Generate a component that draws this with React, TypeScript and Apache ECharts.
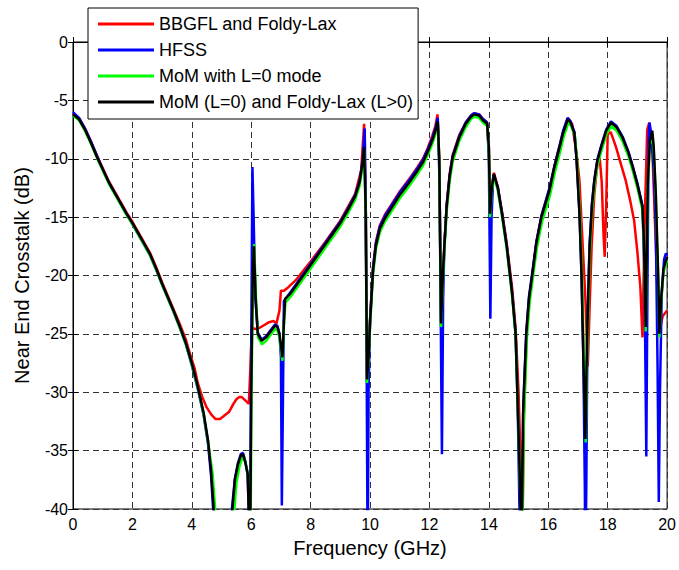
import React, { useEffect, useRef } from "react";
import * as echarts from "echarts";

const legendNames = [
  "BBGFL and Foldy-Lax",
  "HFSS",
  "MoM with L=0 mode",
  "MoM (L=0) and Foldy-Lax (L>0)",
];

const xTicks = [0, 2, 4, 6, 8, 10, 12, 14, 16, 18, 20];
const yTicks = [0, -5, -10, -15, -20, -25, -30, -35, -40];

// BBGFL and Foldy-Lax (red)
const redData: [number, number][] = [
  [0, -6.1], [0.2, -6.5], [0.4, -7.4], [0.6, -8.5], [0.8, -9.7], [1.0, -10.8],
  [1.2, -11.9], [1.4, -12.8], [1.6, -13.7], [1.8, -14.6], [2.0, -15.4], [2.2, -16.3],
  [2.4, -17.2], [2.6, -18.1], [2.8, -19.3], [3.0, -20.6], [3.2, -21.8], [3.4, -23.0],
  [3.6, -24.2], [3.8, -25.5], [3.9, -26.4], [4.0, -27.2], [4.1, -28.0], [4.2, -29.2],
  [4.35, -30.4], [4.5, -31.3], [4.65, -31.9], [4.8, -32.3], [4.95, -32.3], [5.1, -32.0],
  [5.25, -31.7], [5.4, -31.0], [5.5, -30.6], [5.6, -30.4], [5.67, -30.4], [5.8, -30.7],
  [5.92, -31.0], [5.97, -28], [6.02, -24.5], [6.2, -24.6], [6.4, -24.3], [6.6, -24.0],
  [6.75, -23.9], [6.85, -24.1], [6.95, -23.0], [7.0, -21.3], [7.1, -21.3], [7.25, -21.0],
  [7.5, -20.4], [7.75, -19.6], [8.0, -18.8], [8.5, -17.1], [9.0, -15.3], [9.5, -13.0],
  [9.7, -11.0], [9.8, -7.0], [9.86, -15], [9.9, -28.5], [9.95, -26.8], [10.0, -23.8],
  [10.1, -19.3], [10.2, -17.1], [10.33, -15.7], [10.5, -14.8], [10.75, -13.8], [11.0, -12.8],
  [11.33, -11.7], [11.6, -10.7], [11.78, -10.0], [11.94, -9.1], [12.1, -8.0], [12.2, -7.2],
  [12.27, -6.2], [12.33, -10], [12.39, -24.0], [12.45, -20], [12.5, -17.5], [12.58, -13.9],
  [12.68, -11.3], [12.78, -9.7], [13.0, -8.0], [13.22, -6.9], [13.4, -6.3], [13.5, -6.1],
  [13.67, -6.2], [13.8, -6.6], [13.94, -6.9], [14.0, -9], [14.04, -14.5], [14.1, -12.4],
  [14.17, -11.2], [14.3, -12.4], [14.44, -14.5], [14.6, -17.2], [14.78, -21.0], [14.9, -24.5],
  [15.0, -30], [15.08, -37], [15.13, -42], [15.18, -32], [15.28, -24.5], [15.37, -21.8],
  [15.5, -19.2], [15.6, -17.1], [15.77, -14.9], [16.04, -12.6], [16.2, -10.7], [16.38, -8.9],
  [16.5, -7.7], [16.66, -6.5], [16.8, -7.0], [16.95, -9.5], [17.05, -11.9], [17.15, -17],
  [17.25, -22], [17.33, -27.8], [17.4, -22], [17.46, -17.5], [17.55, -13], [17.65, -10.5],
  [17.72, -9.6], [17.8, -12], [17.86, -16.5], [17.9, -18.4], [17.95, -14], [18.0, -7.9],
  [18.1, -7.7], [18.28, -9.0], [18.45, -10.5], [18.61, -11.9], [18.75, -13.5], [18.89, -15.3],
  [19.0, -18], [19.1, -21], [19.17, -25.3], [19.25, -15], [19.33, -7.5], [19.4, -6.9],
  [19.5, -9], [19.6, -16], [19.73, -25], [19.85, -23.5], [20.0, -23.0],
];

// HFSS (blue)
const blueData: [number, number][] = [
  [0, -6.0], [0.2, -6.5], [0.4, -7.4], [0.6, -8.5], [0.8, -9.7], [1.0, -10.9],
  [1.2, -12.0], [1.4, -12.9], [1.6, -13.8], [1.8, -14.7], [2.0, -15.6], [2.2, -16.5],
  [2.4, -17.4], [2.6, -18.3], [2.8, -19.5], [3.0, -20.8], [3.2, -22.0], [3.4, -23.2],
  [3.6, -24.5], [3.8, -25.9], [4.0, -27.7], [4.2, -29.7], [4.4, -32.0], [4.55, -34.5],
  [4.65, -37.2], [4.73, -40.5], [4.8, -45], [5.3, -45], [5.33, -40.5], [5.45, -37.4],
  [5.55, -36.1], [5.65, -35.3], [5.72, -35.2], [5.8, -35.9], [5.88, -37.0], [5.92, -40.5],
  [5.95, -45], [5.99, -30], [6.04, -10.7], [6.08, -15], [6.14, -22], [6.22, -24.9],
  [6.35, -25.5], [6.5, -25.2], [6.65, -24.7], [6.8, -24.2], [6.88, -24.3], [6.95, -25.0],
  [7.0, -27.0], [7.03, -39.7], [7.07, -30], [7.1, -22.2], [7.3, -21.5], [7.5, -20.8],
  [7.75, -19.9], [8.0, -19.0], [8.25, -18.1], [8.5, -17.2], [8.75, -16.3], [9.0, -15.4],
  [9.25, -14.3], [9.5, -13.1], [9.65, -11.9], [9.75, -10.1], [9.82, -7.4], [9.86, -15],
  [9.9, -35], [9.92, -45], [9.95, -30], [10.0, -23.8], [10.1, -19.4], [10.2, -17.2],
  [10.33, -15.8], [10.5, -14.9], [10.75, -13.9], [11.0, -12.9], [11.33, -11.8], [11.6, -10.8],
  [11.78, -10.1], [11.94, -9.2], [12.1, -8.2], [12.2, -7.4], [12.28, -6.5], [12.34, -12],
  [12.42, -35.3], [12.46, -22], [12.5, -17.5], [12.58, -14.0], [12.68, -11.4], [12.78, -9.8],
  [13.0, -8.1], [13.22, -6.9], [13.4, -6.3], [13.5, -6.1], [13.67, -6.2], [13.8, -6.6],
  [13.94, -6.9], [14.0, -10], [14.05, -23.7], [14.09, -15], [14.15, -11.4], [14.3, -12.4],
  [14.44, -14.6], [14.6, -17.4], [14.78, -21.4], [14.9, -24.9], [14.97, -31], [15.03, -40],
  [15.06, -45], [15.12, -40], [15.16, -31], [15.26, -24.8], [15.35, -21.8], [15.49, -19.2],
  [15.6, -17.1], [15.77, -14.9], [16.04, -12.5], [16.2, -10.7], [16.38, -8.9], [16.5, -7.6],
  [16.65, -6.5], [16.75, -6.8], [16.88, -7.7], [16.95, -10], [17.05, -14.6], [17.12, -20],
  [17.18, -27], [17.23, -38], [17.25, -45], [17.28, -38], [17.32, -24], [17.39, -17.4],
  [17.47, -13.8], [17.55, -11.8], [17.65, -10.1], [17.78, -8.9], [17.95, -7.5], [18.11, -6.8],
  [18.3, -7.2], [18.5, -8.1], [18.7, -9.4], [18.84, -10.6], [19.0, -12.1], [19.17, -14.0],
  [19.24, -20], [19.3, -35.5], [19.34, -20], [19.38, -8], [19.41, -6.9], [19.47, -8.0],
  [19.55, -11], [19.62, -16], [19.68, -28], [19.72, -39.4], [19.76, -30], [19.82, -21.5],
  [19.9, -18.6], [19.96, -18.1], [20.0, -18.3],
];

// MoM with L=0 mode (green)
const greenData: [number, number][] = [
  [0, -6.3], [0.2, -6.7], [0.4, -7.6], [0.6, -8.7], [0.8, -9.9], [1.0, -11.0],
  [1.2, -12.1], [1.4, -13.0], [1.6, -13.9], [1.8, -14.8], [2.0, -15.6], [2.2, -16.5],
  [2.4, -17.4], [2.6, -18.3], [2.8, -19.5], [3.0, -20.8], [3.2, -22.0], [3.4, -23.2],
  [3.6, -24.5], [3.8, -25.9], [4.0, -27.6], [4.2, -29.6], [4.4, -31.9], [4.55, -34.3],
  [4.7, -37.0], [4.8, -40.5], [4.85, -45], [5.38, -45], [5.42, -40.5], [5.5, -37.8],
  [5.6, -36.4], [5.7, -35.6], [5.76, -35.6], [5.84, -36.4], [5.9, -37.5], [5.94, -40.5],
  [5.97, -45], [6.01, -30], [6.06, -20], [6.1, -17.3], [6.16, -22], [6.23, -25.3],
  [6.36, -25.9], [6.5, -25.6], [6.65, -25.1], [6.8, -24.6], [6.88, -24.7], [6.95, -25.3],
  [7.05, -27.3], [7.1, -24.3], [7.15, -22.3], [7.3, -21.9], [7.5, -21.2], [7.75, -20.3],
  [8.0, -19.4], [8.25, -18.5], [8.5, -17.6], [8.75, -16.7], [9.0, -15.8], [9.25, -14.7],
  [9.5, -13.5], [9.65, -12.3], [9.75, -10.6], [9.8, -9.3], [9.85, -14.3], [9.9, -29.2],
  [9.95, -27.3], [10.0, -24.3], [10.1, -19.9], [10.2, -17.7], [10.33, -16.3], [10.5, -15.4],
  [10.75, -14.4], [11.0, -13.4], [11.33, -12.3], [11.6, -11.3], [11.78, -10.6], [11.94, -9.7],
  [12.1, -8.7], [12.2, -7.9], [12.28, -7.1], [12.33, -10.3], [12.39, -24.4], [12.45, -20.4],
  [12.5, -18.0], [12.58, -14.5], [12.68, -11.9], [12.78, -10.3], [13.0, -8.5], [13.22, -7.3],
  [13.4, -6.6], [13.5, -6.4], [13.67, -6.5], [13.8, -6.9], [13.94, -7.2], [14.0, -9.3],
  [14.04, -15.0], [14.1, -12.8], [14.17, -11.5], [14.3, -12.7], [14.44, -14.9], [14.6, -17.7],
  [14.78, -21.7], [14.9, -25.2], [14.97, -31.2], [15.05, -38.2], [15.12, -45], [15.17, -33],
  [15.28, -25.4], [15.37, -22.4], [15.5, -19.8], [15.62, -17.6], [15.79, -15.4], [16.06, -13.1],
  [16.22, -11.2], [16.4, -9.4], [16.52, -8.1], [16.68, -6.9], [16.77, -7.2], [16.9, -8.1],
  [16.97, -10.3], [17.07, -15.0], [17.14, -20.3], [17.2, -27.3], [17.26, -34.3], [17.31, -26.3],
  [17.4, -17.9], [17.48, -14.3], [17.56, -12.2], [17.66, -10.5], [17.79, -9.3], [17.96, -7.9],
  [18.12, -7.2], [18.3, -7.6], [18.5, -8.5], [18.7, -9.8], [18.84, -11.0], [19.0, -12.5],
  [19.17, -14.4], [19.22, -17.3], [19.28, -24.8], [19.35, -12.3], [19.42, -8.8], [19.5, -7.9],
  [19.55, -9.3], [19.62, -13.3], [19.7, -20.3], [19.74, -25.3], [19.8, -22.3], [19.88, -19.7],
  [20.0, -18.7],
];

// MoM (L=0) and Foldy-Lax (L>0) (black)
const blackData: [number, number][] = [
  [0, -6.2], [0.2, -6.6], [0.4, -7.5], [0.6, -8.6], [0.8, -9.8], [1.0, -10.9],
  [1.2, -12.0], [1.4, -12.9], [1.6, -13.8], [1.8, -14.7], [2.0, -15.5], [2.2, -16.4],
  [2.4, -17.3], [2.6, -18.2], [2.8, -19.4], [3.0, -20.7], [3.2, -21.9], [3.4, -23.1],
  [3.6, -24.4], [3.8, -25.8], [4.0, -27.5], [4.2, -29.5], [4.4, -31.8], [4.55, -34.2],
  [4.65, -36.8], [4.75, -40.5], [4.8, -45], [5.3, -45], [5.35, -40.5], [5.45, -37.5],
  [5.55, -36.2], [5.65, -35.4], [5.72, -35.3], [5.8, -36.0], [5.88, -37.0], [5.92, -40.5],
  [5.96, -45], [6.0, -30], [6.05, -20], [6.09, -17.5], [6.15, -22], [6.22, -25.0],
  [6.35, -25.6], [6.5, -25.3], [6.65, -24.8], [6.8, -24.3], [6.88, -24.4], [6.95, -25.0],
  [7.05, -27.0], [7.1, -24], [7.14, -22.0], [7.3, -21.6], [7.5, -20.9], [7.75, -20.0],
  [8.0, -19.1], [8.25, -18.2], [8.5, -17.3], [8.75, -16.4], [9.0, -15.5], [9.25, -14.4],
  [9.5, -13.2], [9.65, -12.0], [9.75, -10.3], [9.8, -9.0], [9.85, -14], [9.9, -28.9],
  [9.95, -27], [10.0, -24], [10.1, -19.6], [10.2, -17.4], [10.33, -16.0], [10.5, -15.1],
  [10.75, -14.1], [11.0, -13.1], [11.33, -12.0], [11.6, -11.0], [11.78, -10.3], [11.94, -9.4],
  [12.1, -8.4], [12.2, -7.6], [12.28, -6.8], [12.33, -10], [12.39, -24.1], [12.45, -20],
  [12.5, -17.6], [12.58, -14.1], [12.68, -11.5], [12.78, -9.9], [13.0, -8.2], [13.22, -7.0],
  [13.4, -6.4], [13.5, -6.2], [13.67, -6.3], [13.8, -6.7], [13.94, -7.0], [14.0, -9],
  [14.04, -14.7], [14.1, -12.5], [14.17, -11.3], [14.3, -12.5], [14.44, -14.7], [14.6, -17.5],
  [14.78, -21.5], [14.9, -25], [14.97, -31], [15.05, -38], [15.1, -45], [15.15, -32],
  [15.26, -25], [15.35, -22], [15.49, -19.4], [15.6, -17.2], [15.77, -15.0], [16.04, -12.7],
  [16.2, -10.8], [16.38, -9.0], [16.5, -7.8], [16.66, -6.6], [16.75, -6.9], [16.88, -7.8],
  [16.95, -10], [17.05, -14.7], [17.12, -20], [17.18, -27], [17.25, -34], [17.3, -26],
  [17.39, -17.6], [17.47, -14], [17.55, -11.9], [17.65, -10.2], [17.78, -9.0], [17.95, -7.6],
  [18.11, -6.9], [18.3, -7.3], [18.5, -8.2], [18.7, -9.5], [18.84, -10.7], [19.0, -12.2],
  [19.17, -14.1], [19.22, -17], [19.28, -24.4], [19.35, -12], [19.42, -8.5], [19.5, -7.6],
  [19.55, -9], [19.62, -13], [19.7, -20], [19.74, -25], [19.8, -22], [19.88, -19.4],
  [20.0, -18.4],
];

const seriesColors = ["#ff0000", "#0000ff", "#00ff00", "#000000"];
const seriesData = [redData, blueData, greenData, blackData];

const FONT = "'Liberation Sans', Arial, Helvetica, sans-serif";

export default function App() {
  const ref = useRef<HTMLDivElement>(null);
  useEffect(() => {
    if (!ref.current) return;
    const chart = echarts.init(ref.current, undefined, { renderer: "svg" });
    const gridLine = { show: true, lineStyle: { color: "#333", type: [6, 4] as any, width: 1 } };
    chart.setOption({
      animation: false,
      backgroundColor: "#fff",
      textStyle: { fontFamily: FONT },
      grid: { left: 73, right: 9, top: 42, bottom: 61, show: true, borderColor: "#000", borderWidth: 1 },
      legend: {
        data: legendNames.map((name) => ({ name, icon: "rect" })),
        orient: "vertical",
        left: 88,
        top: 8,
        padding: [7, 5, 8, 10],
        itemGap: 8,
        itemWidth: 56,
        itemHeight: 3,
        backgroundColor: "#fff",
        borderColor: "#000",
        borderWidth: 1,
        textStyle: { fontSize: 18, lineHeight: 18, color: "#000", fontFamily: FONT },
      },
      xAxis: [
        {
          type: "value",
          min: xTicks[0],
          max: xTicks[xTicks.length - 1],
          interval: 2,
          name: "Frequency (GHz)",
          nameLocation: "middle",
          nameGap: 29,
          nameTextStyle: { fontSize: 20, color: "#000", fontFamily: FONT },
          axisLine: { show: true, lineStyle: { color: "#000", width: 1 } },
          axisTick: { show: true, inside: true, length: 5, lineStyle: { color: "#000" } },
          axisLabel: { fontSize: 16, color: "#000", margin: 7, fontFamily: FONT },
          splitLine: gridLine,
        },
        {
          type: "value",
          position: "top",
          min: xTicks[0],
          max: xTicks[xTicks.length - 1],
          interval: 2,
          axisLine: { show: true, lineStyle: { color: "#000", width: 1 } },
          axisTick: { show: true, inside: true, length: 5, lineStyle: { color: "#000" } },
          axisLabel: { show: false },
          splitLine: { show: false },
        },
      ],
      yAxis: [
        {
          type: "value",
          min: yTicks[yTicks.length - 1],
          max: yTicks[0],
          interval: 5,
          name: "Near End Crosstalk (dB)",
          nameLocation: "middle",
          nameGap: 41,
          nameTextStyle: { fontSize: 20, color: "#000", fontFamily: FONT },
          axisLine: { show: true, lineStyle: { color: "#000", width: 1 } },
          axisTick: { show: true, inside: true, length: 5, lineStyle: { color: "#000" } },
          axisLabel: { fontSize: 16, color: "#000", margin: 5, fontFamily: FONT },
          splitLine: gridLine,
        },
        {
          type: "value",
          position: "right",
          min: yTicks[yTicks.length - 1],
          max: yTicks[0],
          interval: 5,
          axisLine: { show: true, lineStyle: { color: "#000", width: 1 } },
          axisTick: { show: true, inside: true, length: 5, lineStyle: { color: "#000" } },
          axisLabel: { show: false },
          splitLine: { show: false },
        },
      ],
      series: legendNames.map((name, i) => ({
        name,
        type: "line",
        data: seriesData[i],
        xAxisIndex: 0,
        yAxisIndex: 0,
        symbol: "none",
        showSymbol: false,
        clip: true,
        color: seriesColors[i],
        itemStyle: { color: seriesColors[i] },
        lineStyle: { color: seriesColors[i], width: 2.5 },
        z: 2 + i,
      })),
    });
    return () => chart.dispose();
  }, []);
  return (
    <div
      ref={ref}
      style={{ position: "fixed", left: 0, top: 0, width: 679, height: 570, background: "#fff" }}
    />
  );
}
